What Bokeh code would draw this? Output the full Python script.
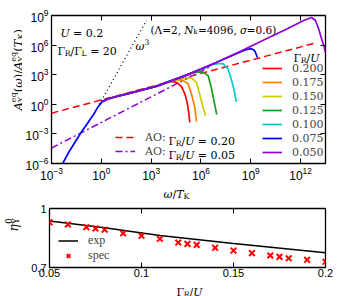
import numpy as np
from bokeh.plotting import figure
from bokeh.models import (Label, Legend, LegendItem, FixedTicker, LogAxis, LinearAxis, Range1d)
from bokeh.layouts import column, row
from bokeh.embed import file_html
from bokeh.resources import INLINE

# ---------------- panel (a) data: log10(omega/T_K) and log10(A)
trunk_lw = [0.05, 0.35, 0.75, 1.84, 3.34, 5.13, 6.92, 8.42, 9.91, 11.11, 12.18, 12.66, 12.90, 13.08, 13.26, 13.41, 13.50]
trunk_la = [0.27, 0.52, 0.71, 1.18, 1.84, 2.96, 4.23, 5.40, 6.61, 7.58, 8.49, 8.80, 8.49, 7.68, 6.66, 5.85, 5.24]
blue_low_lw = [-2.40, -1.98, -1.25, -0.79, -0.45, -0.19]
blue_low_la = [-6.23, -4.91, -2.93, -1.81, -0.98, -0.24]

red_tail_lw = [3.99, 4.29, 4.59, 4.83, 5.03, 5.16, 5.25, 5.33]
red_tail_la = [2.25, 2.32, 2.15, 1.79, 1.05, 0.27, -0.65, -1.83]
orange_tail_lw = [4.23, 4.59, 4.89, 5.23, 5.43, 5.63, 5.73]
orange_tail_la = [2.40, 2.50, 2.45, 2.07, 1.05, -0.31, -1.76]
yellow_tail_lw = [4.71, 5.07, 5.43, 5.73, 5.92, 6.13, 6.28]
yellow_tail_la = [2.68, 2.71, 2.65, 2.23, 1.05, -0.31, -1.15]
green_tail_lw = [5.55, 5.85, 6.13, 6.43, 6.62, 6.82, 6.95]
green_tail_la = [3.20, 3.26, 3.26, 2.91, 1.72, 0.04, -1.05]
cyan_tail_lw = [6.74, 7.04, 7.32, 7.62, 7.82, 8.02, 8.12]
cyan_tail_la = [4.05, 4.13, 4.13, 3.62, 2.60, 1.25, 0.24]
blue_tail_lw = [8.30, 8.66, 9.01, 9.21, 9.31, 9.40]
blue_tail_la = [5.26, 5.50, 5.65, 5.48, 5.14, 4.74]
# number of trunk points each curve follows before its own tail
trunk_share = [5, 5, 5, 6, 6, 7, 17]

gamma_labels = ["0.200", "0.175", "0.150", "0.125", "0.100", "0.075", "0.050"]
curve_colors = ["#ff0000", "#ff8000", "#cccc00", "#10a010", "#00cccc", "#0000ff", "#9400d3"]

ao_red_lw = [-3.0, 13.0]
ao_red_la = [-0.90, 6.26]
ao_purple_lw = [-3.0, 6.6]
ao_purple_la = [-4.43, 3.86]
w3_lw = [-0.12, 2.72]
w3_la = [0.0, 8.5]

xticks_a = [-3, 0, 3, 6, 9, 12]
yticks_a = [-6, -3, 0, 3, 6, 9]

# ---------------- panel (b) data
spec_g = [0.05, 0.06, 0.07, 0.075, 0.08, 0.09, 0.10, 0.11, 0.12, 0.125, 0.13, 0.14, 0.15, 0.16, 0.17, 0.175, 0.18, 0.19, 0.20]
spec_eta = [0.930, 0.919, 0.905, 0.898, 0.892, 0.874, 0.861, 0.846, 0.827, 0.820, 0.815, 0.800, 0.786, 0.773, 0.761, 0.754, 0.747, 0.739, 0.729]
exp_g = [0.05, 0.08, 0.11, 0.15, 0.20]
exp_eta = [0.936, 0.902, 0.863, 0.822, 0.775]
xticks_b = [0.05, 0.1, 0.15, 0.2]
yticks_b = [0.7, 1.0]

MATH = "DejaVu Serif"
TEXT = "Liberation Serif"
SANS = "Liberation Sans"

# DejaVu Serif advance widths (em)
W = {'A': .722, 'Y': .667, 'T': .669, 'K': .756, 'U': .812, 'N': .838, 'R': .770, 'L': .672, 'O': .787,
     'e': .592, 'q': .640, 'k': .648,
     '(': .390, ')': .390, '/': .337, '=': .838, ' ': .318, ',': .318, '.': .318, ':': .337,
     'Γ': .652, 'Λ': .722, 'ω': .821, 'σ': .635, 'η': .652}


def tw(s, size):
    return sum(W.get(c, .636) for c in s) * size


def rich(p, x, y, segs, size, angle=0.0, font=MATH):
    pos = 0.0
    prev_start = 0.0
    for text, kind in segs:
        if 'sub' in kind:
            s, off = size * 0.7, -0.22 * size
        elif 'sup' in kind:
            s, off = size * 0.7, 0.42 * size
        else:
            s, off = size, 0.0
        italic = kind == 'i'
        start = prev_start if 'back' in kind else pos
        lead = len(text) - len(text.lstrip(' '))
        st = start + lead * W[' '] * s
        w = tw(text, s)
        if angle == 0:
            lx, ly = x + st, y + off
        else:
            lx, ly = x - off, y + st
        p.add_layout(Label(x=lx, y=ly, x_units="screen", y_units="screen", text=text.strip(' '),
                           angle=angle, text_font=font, text_font_size=f"{s:.1f}px",
                           text_font_style="italic" if italic else "normal",
                           text_baseline="alphabetic", text_align="left", text_color="black"))
        if 'back' in kind:
            pos = max(pos, start + w)
        else:
            pos = start + w
            prev_start = start


def style_axis(ax, size, standoff, show=True):
    ax.axis_line_color = None
    ax.major_tick_in = 5
    ax.major_tick_out = 0
    ax.minor_tick_in = 0
    ax.minor_tick_out = 0
    ax.major_tick_line_color = "black"
    ax.major_label_text_font = SANS
    ax.major_label_text_color = "black"
    ax.major_label_standoff = standoff
    ax.major_label_text_font_size = f"{size}px"
    if not show:
        ax.major_label_text_font_size = "1px"
        ax.major_label_text_alpha = 0
        ax.major_label_standoff = 0


def strip(w, h):
    s = figure(width=w, height=h, x_range=Range1d(0, 1), y_range=Range1d(0, 1), title=None,
               x_axis_location=None, y_axis_location=None, min_border=0,
               output_backend="svg", toolbar_location=None)
    s.grid.visible = False
    s.outline_line_color = None
    return s


# ================= panel (a)
pa = figure(width=317, height=183, x_axis_type="log", y_axis_type="log", title=None,
            x_range=Range1d(1e-3, 10 ** 13.5), y_range=Range1d(1e-6, 1e9),
            output_backend="svg", toolbar_location=None,
            min_border_left=27, min_border_right=14, min_border_top=15, min_border_bottom=20)
pa.grid.visible = False
pa.outline_line_color = "black"
pa.outline_line_width = 1.3

xt_a = FixedTicker(ticks=[10.0 ** e for e in xticks_a], minor_ticks=[])
yt_a = FixedTicker(ticks=[10.0 ** e for e in yticks_a], minor_ticks=[])
pa.xaxis.ticker = xt_a
pa.yaxis.ticker = yt_a
style_axis(pa.xaxis[0], 12, 3)
style_axis(pa.yaxis[0], 12, 3)
ta = LogAxis(ticker=xt_a)
style_axis(ta, 12, 0, show=False)
pa.add_layout(ta, "above")
ra = LogAxis(ticker=yt_a)
style_axis(ra, 12, 0, show=False)
pa.add_layout(ra, "right")

r_ao_red = pa.line(10 ** np.array(ao_red_lw), 10 ** np.array(ao_red_la), line_color="#ff0000",
                   line_width=1.5, line_dash="7 4")
r_ao_pur = pa.line(10 ** np.array(ao_purple_lw), 10 ** np.array(ao_purple_la), line_color="#9400d3",
                   line_width=1.5, line_dash="7 3 2 3")
pa.line(10 ** np.array(w3_lw), 10 ** np.array(w3_la), line_color="black", line_width=1.3, line_dash="1 3")

tails = [(red_tail_lw, red_tail_la), (orange_tail_lw, orange_tail_la), (yellow_tail_lw, yellow_tail_la),
         (green_tail_lw, green_tail_la), (cyan_tail_lw, cyan_tail_la), (blue_tail_lw, blue_tail_la),
         ([], [])]
renderers = []
for i, (tl, tla) in enumerate(tails):
    n = trunk_share[i]
    lw = list(trunk_lw[:n]) + list(tl)
    la = list(trunk_la[:n]) + list(tla)
    if i == 5:
        lw = blue_low_lw + lw
        la = blue_low_la + la
    r = pa.line(10 ** np.array(lw), 10 ** np.array(la), line_color=curve_colors[i], line_width=1.7)
    renderers.append(r)

leg = Legend(items=[LegendItem(label=g, renderers=[r]) for g, r in zip(gamma_labels, renderers)],
             location=(211, 4), orientation="vertical", glyph_width=20, glyph_height=14,
             label_height=14, spacing=0, padding=0, margin=0, label_standoff=10,
             border_line_color=None, background_fill_alpha=0,
             label_text_font=MATH, label_text_font_size="11px")
pa.add_layout(leg)
leg2 = Legend(items=[LegendItem(label="AO:", renderers=[r_ao_red]), LegendItem(label="AO:", renderers=[r_ao_pur])],
              location=(64, 5), orientation="vertical", glyph_width=20, glyph_height=14,
              label_height=14, spacing=0, padding=0, margin=0, label_standoff=10,
              border_line_color=None, background_fill_alpha=0,
              label_text_font=MATH, label_text_font_size="11px")
pa.add_layout(leg2)

sz = 11
rich(pa, 117, 22.5, [("Γ", "n"), ("R", "sub"), ("/", "n"), ("U", "i"), (" = 0.20", "n")], sz)
rich(pa, 117, 8.5, [("Γ", "n"), ("R", "sub"), ("/", "n"), ("U", "i"), (" = 0.05", "n")], sz)
rich(pa, 242, 105, [("Γ", "n"), ("R", "sub"), ("/", "n"), ("U", "i")], sz)
rich(pa, 9, 129.7, [("U", "i"), (" = 0.2", "n")], sz)
rich(pa, 6, 112.3, [("Γ", "n"), ("R", "sub"), ("/Γ", "n"), ("L", "sub"), (" = 20", "n")], sz)
rich(pa, 84, 117, [("ω", "i"), ("3", "sup")], sz)
rich(pa, 99, 134, [("(Λ=2, ", "n"), ("N", "i"), ("k", "sub"), ("=4096, ", "n"), ("σ", "i"), ("=0.6)", "n")], 10.5)

# left strip of panel (a): y label and panel tag
sa = strip(22, 183)
rich(sa, 17.5, 53, [("A", "i"), ("Y", "sub"), ("eq", "supback"), ("(", "n"), ("ω", "i"), (")/", "n"),
                    ("A", "i"), ("Y", "sub"), ("eq", "supback"), ("(", "n"), ("T", "i"), ("K", "sub"), (")", "n")],
     11.5, angle=np.pi / 2)
sa.add_layout(Label(x=2, y=165, x_units="screen", y_units="screen", text="(a)", text_font=SANS,
                    text_font_size="12px", text_baseline="alphabetic", text_color="black"))

# x label strip of panel (a)
xa = strip(339, 16)
rich(xa, 163, 5, [("ω", "i"), ("/", "n"), ("T", "i"), ("K", "sub")], sz)

# ================= panel (b)
pb = figure(width=317, height=82, x_range=Range1d(0.05, 0.2), y_range=Range1d(0.7, 1.0), title=None,
            output_backend="svg", toolbar_location=None,
            min_border_left=27, min_border_right=14, min_border_top=9, min_border_bottom=14)
pb.grid.visible = False
pb.outline_line_color = "black"
pb.outline_line_width = 1.3
xt_b = FixedTicker(ticks=xticks_b, minor_ticks=[])
yt_b = FixedTicker(ticks=yticks_b, minor_ticks=[])
pb.xaxis.ticker = xt_b
pb.yaxis.ticker = yt_b
style_axis(pb.xaxis[0], 11, 1)
style_axis(pb.yaxis[0], 11, 3)
pb.xaxis[0].major_label_overrides = {0.05: "0.05", 0.1: "0.1", 0.15: "0.15", 0.2: "0.2"}
pb.yaxis[0].major_label_overrides = {0.7: "0.7", 1.0: "1"}
tb = LinearAxis(ticker=xt_b)
style_axis(tb, 11, 0, show=False)
pb.add_layout(tb, "above")
rb = LinearAxis(ticker=yt_b)
style_axis(rb, 11, 0, show=False)
pb.add_layout(rb, "right")

r_exp = pb.line(exp_g, exp_eta, line_color="black", line_width=1.5)
r_spec = pb.scatter(spec_g, spec_eta, marker="x", size=8, line_color="#ff0000", line_width=2)
legb = Legend(items=[LegendItem(label="exp", renderers=[r_exp]), LegendItem(label="spec", renderers=[r_spec])],
              location=(9, 4), orientation="vertical", glyph_width=20, glyph_height=13,
              label_height=13, spacing=0, padding=0, margin=0, label_standoff=10,
              border_line_color=None, background_fill_alpha=0,
              label_text_font=TEXT, label_text_font_size="12px")
pb.add_layout(legb)

sb = strip(22, 82)
rich(sb, 13, 36, [("η", "i"), ("Y", "sub"), ("0", "supback")], 12, angle=np.pi / 2)
sb.add_layout(Label(x=2, y=69, x_units="screen", y_units="screen", text="(b)", text_font=SANS,
                    text_font_size="12px", text_baseline="alphabetic", text_color="black"))

xb = strip(339, 15)
rich(xb, 176, 4.5, [("Γ", "n"), ("R", "sub"), ("/", "n"), ("U", "i")], sz)

page = column(row(sa, pa, spacing=0), xa, row(sb, pb, spacing=0), xb, spacing=0)
open("out.html", "w").write(file_html(page, INLINE))
